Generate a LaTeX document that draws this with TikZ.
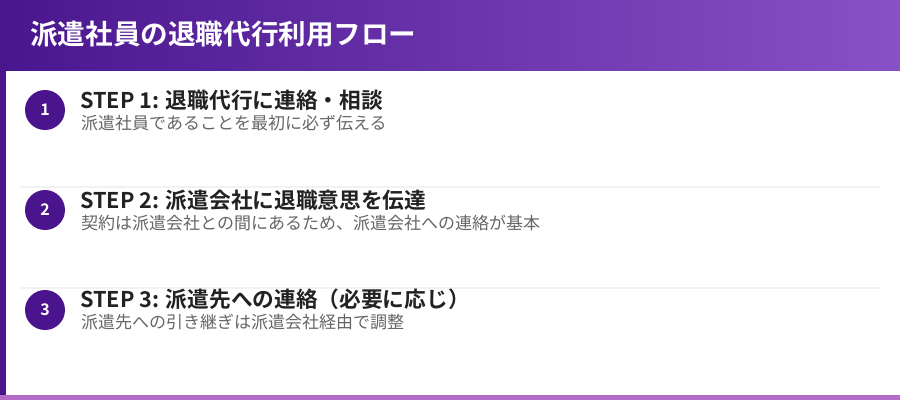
\documentclass[tikz,border=0pt]{standalone}
\usepackage{fontspec}
\setmainfont{Noto Sans CJK JP}[BoldFont={Noto Sans CJK JP Bold}]
\definecolor{hdrL}{RGB}{74,22,142}
\definecolor{hdrR}{RGB}{136,82,198}
\definecolor{deep}{RGB}{74,20,140}
\definecolor{botbar}{RGB}{181,108,200}
\definecolor{sepc}{RGB}{242,242,242}
\definecolor{titc}{RGB}{34,34,34}
\definecolor{subc}{RGB}{102,102,102}
\tikzset{
  numdot/.style={circle,fill=deep,minimum size=40pt,inner sep=0pt,text=white,font=\fontsize{16}{18}\selectfont\bfseries},
  steptitle/.style={anchor=base west,inner sep=0pt,text=titc,font=\fontsize{21.7}{25}\selectfont\bfseries},
  stepsub/.style={anchor=base west,inner sep=0pt,text=subc,font=\fontsize{17}{20}\selectfont},
  sepline/.style={draw=sepc,line width=2pt},
}
\begin{document}
\begin{tikzpicture}[x=1pt,y=-1pt]
\useasboundingbox (0,0) rectangle (900,400);
\fill[white] (0,0) rectangle (900,400);
% header
\shade[left color=hdrL,right color=hdrR] (0,0) rectangle (900,70);
\node[anchor=base west,inner sep=0pt,text=white,font=\fontsize{27.6}{30}\selectfont\bfseries] (hdr) at (30,44) {派遣社員の退職代行利用フロー};
% left bar and bottom bar
\fill[deep] (0,70) rectangle (6,395);
\fill[botbar] (0,395) rectangle (900,400);
% separators
\draw[sepline] (20,187) -- (880,187);
\draw[sepline] (20,288) -- (880,288);
% steps
\node[numdot] (n1) at (45,110) {1};
\node[steptitle] (t1) at (80,108) {STEP 1: 退職代行に連絡・相談};
\node[stepsub] (s1) at (81,129) {派遣社員であることを最初に必ず伝える};
\node[numdot] (n2) at (45,210) {2};
\node[steptitle] (t2) at (80,208) {STEP 2: 派遣会社に退職意思を伝達};
\node[stepsub] (s2) at (81,229) {契約は派遣会社との間にあるため、派遣会社への連絡が基本};
\node[numdot] (n3) at (45,310) {3};
\node[steptitle] (t3) at (80,307) {STEP 3: 派遣先への連絡（必要に応じ）};
\node[stepsub] (s3) at (81,328) {派遣先への引き継ぎは派遣会社経由で調整};
\end{tikzpicture}
\end{document}
